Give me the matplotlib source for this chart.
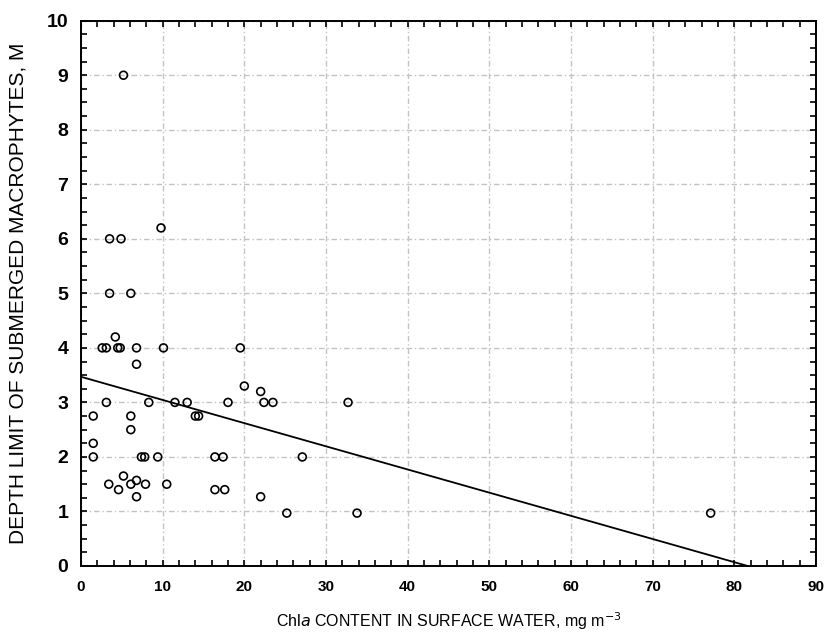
import matplotlib
matplotlib.use("Agg")
import matplotlib.pyplot as plt
from matplotlib.ticker import MultipleLocator
import numpy as np

# Data
chla = [5.2, 9.8, 3.5, 4.9, 3.5, 6.1, 4.2,
        2.6, 3.1, 4.5, 4.8, 6.8, 10.1, 19.5,
        6.8, 20.0, 22.0,
        3.1, 8.3, 11.5, 13.0, 18.0, 22.4, 23.5, 32.7,
        1.5, 6.1, 14.0, 14.4,
        6.1, 1.5,
        1.5, 7.4, 7.8, 9.4, 16.4, 17.4, 27.1,
        5.2, 3.4, 6.1, 7.9, 10.5, 6.8,
        4.6, 16.4, 17.6,
        6.8, 22.0,
        25.2, 33.8, 77.1]
depth = [9.0, 6.2, 6.0, 6.0, 5.0, 5.0, 4.2,
         4.0, 4.0, 4.0, 4.0, 4.0, 4.0, 4.0,
         3.7, 3.3, 3.2,
         3.0, 3.0, 3.0, 3.0, 3.0, 3.0, 3.0, 3.0,
         2.75, 2.75, 2.75, 2.75,
         2.5, 2.25,
         2.0, 2.0, 2.0, 2.0, 2.0, 2.0, 2.0,
         1.65, 1.5, 1.5, 1.5, 1.5, 1.57,
         1.4, 1.4, 1.4,
         1.27, 1.27,
         0.97, 0.97, 0.97]

# Regression line parameters
intercept = 3.47
slope = -0.0425

xticks = [0, 10, 20, 30, 40, 50, 60, 70, 80, 90]
yticks = [0, 1, 2, 3, 4, 5, 6, 7, 8, 9, 10]

FAM = ['Liberation Sans', 'DejaVu Sans']

fig = plt.figure(figsize=(8.28, 6.34), dpi=100)
ax = fig.add_axes([81/828, 1-566/634, (816-81)/828, (566-20.7)/634])

ax.scatter(chla, depth, s=32, facecolors='none', edgecolors='black',
           linewidths=1.2, zorder=3, clip_on=False)

x_end = -intercept / slope
xl = np.array([0, x_end])
ax.plot(xl, intercept + slope * xl, color='black', lw=1.3, zorder=2)

ax.set_xlim(0, 90)
ax.set_ylim(0, 10)
ax.set_xticks(xticks)
ax.set_yticks(yticks)
ax.xaxis.set_minor_locator(MultipleLocator(2))
ax.yaxis.set_minor_locator(MultipleLocator(0.25))
ax.tick_params(which='both', direction='in', top=True, right=True,
               length=4, width=1.2, colors='black')
ax.tick_params(axis='x', pad=10)
ax.tick_params(axis='y', pad=9)
for lab in ax.get_xticklabels():
    lab.set_family(FAM)
    lab.set_fontweight('bold')
    lab.set_fontsize(11)
for lab in ax.get_yticklabels():
    lab.set_family(FAM)
    lab.set_fontweight('bold')
    lab.set_fontsize(14)

ax.grid(True, which='major', color='#c4c4c4', linestyle=(0, (4, 2, 1, 2)), lw=1.0)
for sp in ax.spines.values():
    sp.set_linewidth(1.4)

ax.set_xlabel('Chl$\\it{a}$ CONTENT IN SURFACE WATER, mg m$^{-3}$',
              family=FAM, fontsize=11.5, labelpad=12)
ax.set_ylabel('DEPTH LIMIT OF SUBMERGED MACROPHYTES, M',
              family=FAM, fontsize=15, labelpad=14)

fig.savefig('out.png', dpi=100)
